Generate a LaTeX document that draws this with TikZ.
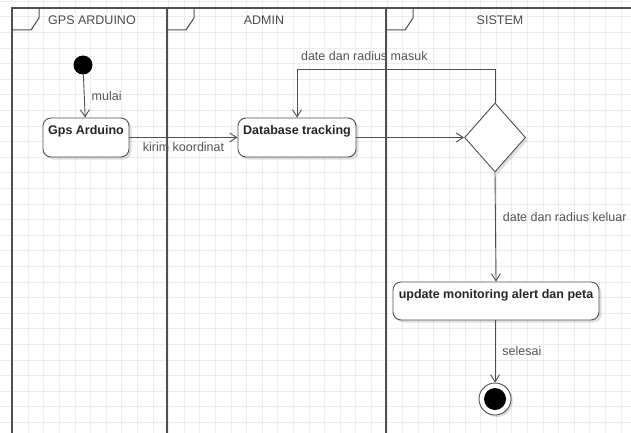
\documentclass[tikz,border=0pt]{standalone}
\usepackage{fontspec}
\setmainfont{Liberation Sans}
\usetikzlibrary{arrows.meta,shapes.geometric,shadows}
\definecolor{garis}{HTML}{505050}
\definecolor{teks}{HTML}{555555}
\begin{document}
\begin{tikzpicture}[x=1pt,y=1pt]
		\tikzset{
			tab/.style={insert path={-- ++(27,0) -- ++(0,-10) -- ++(-8,-12) -- ++(-19,0)}},
			act/.style={draw=garis, fill=white, rounded corners=8pt, line width=0.9pt, font=\fontsize{12.5}{15}\selectfont\bfseries, text=black!85, inner xsep=3pt, inner ysep=0pt, text height=16pt, text depth=23pt, drop shadow={shadow xshift=2.5pt, shadow yshift=-2.5pt, fill=black, opacity=.12}},
			lbl/.style={font=\fontsize{12.5}{15}\selectfont, text=teks, inner sep=2pt},
			arr/.style={draw=garis, line width=0.9pt, -{Straight Barb[length=7pt,width=9pt]}},
			lane/.style={draw=garis, line width=1.3pt},
		}
		\useasboundingbox (0,0) rectangle (631,-433);
		\draw[black!7, line width=0.8pt, step=15.6pt, shift={(12.5,-1.2)}] (-15.6,5) grid (625,-440);
		% swimlanes
		\draw[lane] (12,-433) -- (12,-8) -- (631,-8);
		\draw[lane] (167,-433) -- (167,-8);
		\draw[lane] (386,-433) -- (386,-8);
		\draw[garis, line width=1pt] (12,-8)[tab] (167,-8)[tab] (386,-8)[tab];
		\node[lbl, text=black!70] (hgps) at (92,-20) {GPS ARDUINO};
		\node[lbl, text=black!70] (hadmin) at (264,-20) {ADMIN};
		\node[lbl, text=black!70] (hsistem) at (500,-20) {SISTEM};
		% aktivitas
		\node[circle, fill=black, minimum size=19pt, inner sep=0pt] (awal) at (83,-65) {};
		\node[act, minimum width=86pt] (gps) at (86,-137.5) {Gps Arduino};
		\node[act, minimum width=118pt] (db) at (297,-137.5) {Database tracking};
		\node[diamond, draw=garis, fill=white, line width=0.9pt, minimum width=61pt, minimum height=69pt, inner sep=0pt, drop shadow={shadow xshift=2.5pt, shadow yshift=-2.5pt, fill=black, opacity=.12}] (cek) at (495,-137.5) {};
		\node[act, minimum width=206pt, text depth=22pt] (upd) at (496,-301) {update monitoring alert dan peta};
		\node[circle, draw=garis, fill=white, line width=0.9pt, minimum size=32pt, inner sep=0pt, drop shadow={shadow xshift=2pt, shadow yshift=-2pt, fill=black, opacity=.12}, path picture={\fill[black] (path picture bounding box.center) circle (11pt);}] (akhir) at (495,-399) {};
		% alur
		\draw[arr] (awal) -- node[lbl, right=5pt] {mulai} (gps);
		\draw[arr] (gps) -- node[lbl, below=2pt] {kirim koordinat} (db);
		\draw[arr] (db) -- (cek);
		\draw[arr] (cek.north) -- ++(0,33) -| node[lbl, pos=0.33, above=6pt] {date dan radius masuk} (db.north);
		\draw[arr] (cek.south) -- node[lbl, pos=0.41, right=5pt] {date dan radius keluar} (upd.north);
		\draw[arr] (upd.south -| akhir.north) -- node[lbl, right=5pt] {selesai} (akhir.north);
	\end{tikzpicture}
\end{document}
